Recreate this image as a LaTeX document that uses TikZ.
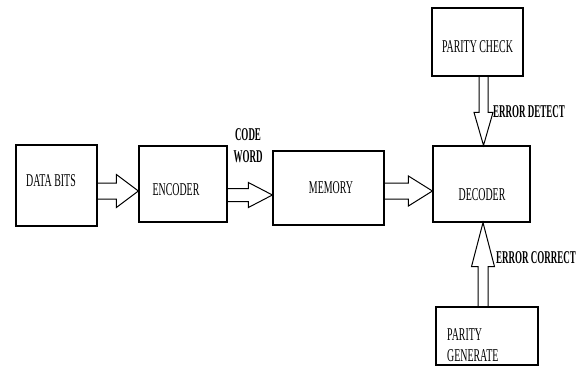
\documentclass[tikz,border=0pt]{standalone}
\usepackage{fontspec}
\setmainfont{Liberation Serif}[FakeStretch=0.55, BoldFeatures={FakeStretch=0.5}]
\usetikzlibrary{calc}
\tikzset{
  boxnode/.style={draw=black, line width=1.2pt, inner sep=0pt},
  txt/.style={inner sep=0pt, font=\fontsize{18}{20}\selectfont},
  lbl/.style={inner sep=0pt, font=\fontsize{18}{20}\selectfont\bfseries},
  blockarrow/.style={draw=black, line width=1pt, line join=miter},
}
% horizontal block arrow: #1 start, #2 tip, #3 half shaft, #4 half head, #5 head length
\newcommand\harrow[5]{%
  \draw[blockarrow] let \p1=(#1), \p2=(#2) in
    (\x1,\y2+#3) -- (\x2-#5,\y2+#3) -- (\x2-#5,\y2+#4) -- (\x2,\y2)
    -- (\x2-#5,\y2-#4) -- (\x2-#5,\y2-#3) -- (\x1,\y2-#3);}
% vertical block arrow pointing down
\newcommand\darrow[5]{%
  \draw[blockarrow] let \p1=(#1), \p2=(#2) in
    (\x2-#3,\y1) -- (\x2-#3,\y2+#5) -- (\x2-#4,\y2+#5) -- (\x2,\y2)
    -- (\x2+#4,\y2+#5) -- (\x2+#3,\y2+#5) -- (\x2+#3,\y1);}
% vertical block arrow pointing up
\newcommand\uarrow[5]{%
  \draw[blockarrow] let \p1=(#1), \p2=(#2) in
    (\x2-#3,\y1) -- (\x2-#3,\y2-#5) -- (\x2-#4,\y2-#5) -- (\x2,\y2)
    -- (\x2+#4,\y2-#5) -- (\x2+#3,\y2-#5) -- (\x2+#3,\y1);}
\begin{document}
\begin{tikzpicture}[x=1pt,y=-1pt]
\useasboundingbox (0,0) rectangle (587,375);
\fill[white] (0,0) rectangle (587,375);
% boxes
\node[boxnode, minimum width=81pt, minimum height=81pt] (data) at (56.5,185.5) {};
\node[boxnode, minimum width=88pt, minimum height=76pt] (enc) at (183,184) {};
\node[boxnode, minimum width=111pt, minimum height=74pt] (mem) at (328.5,188) {};
\node[boxnode, minimum width=97pt, minimum height=76pt] (dec) at (481.5,184) {};
\node[boxnode, minimum width=91pt, minimum height=68pt] (pc) at (477.5,42) {};
\node[boxnode, minimum width=102pt, minimum height=58pt] (pg) at (487,336) {};
% box texts
\node[txt] (dataT) at (51,181) {DATA BITS};
\node[txt] (encT) at (176,190) {ENCODER};
\node[txt] (memT) at (331,188) {MEMORY};
\node[txt] (decT) at (482,195) {DECODER};
\node[txt] (pcT) at (477.5,47) {PARITY CHECK};
\node[txt, anchor=west] (pgT1) at (447,335) {PARITY};
\node[txt, anchor=west] (pgT2) at (447,356) {GENERATE};
% connector tips / coordinates
\coordinate (t1) at (enc.west |- 0,191);
\coordinate (s1) at (data.east |- 0,191);
\coordinate (t2) at (mem.west |- 0,195);
\coordinate (s2) at (enc.east |- 0,195);
\coordinate (t3) at (dec.west |- 0,191);
\coordinate (s3) at (mem.east |- 0,191);
\coordinate (t4) at (dec.north -| 483.5,0);
\coordinate (s4) at (pc.south -| 483.5,0);
\coordinate (t5) at (dec.south -| 483,0);
\coordinate (s5) at (pg.north -| 483,0);
% arrows
\harrow{s1}{t1}{8}{16.5}{22}
\harrow{s2}{t2}{6.5}{12.5}{24}
\harrow{s3}{t3}{8}{15}{24}
\darrow{s4}{t4}{4.5}{9.5}{33}
\uarrow{s5}{t5}{5}{11.5}{44}
% labels
\node[lbl] (cw1) at (248,135) {CODE};
\node[lbl] (cw2) at (248,157) {WORD};
\node[lbl, anchor=west] (ed) at (493,112) {ERROR DETECT};
\node[lbl, anchor=west] (ec) at (496,258) {ERROR CORRECT};
\end{tikzpicture}
\end{document}
